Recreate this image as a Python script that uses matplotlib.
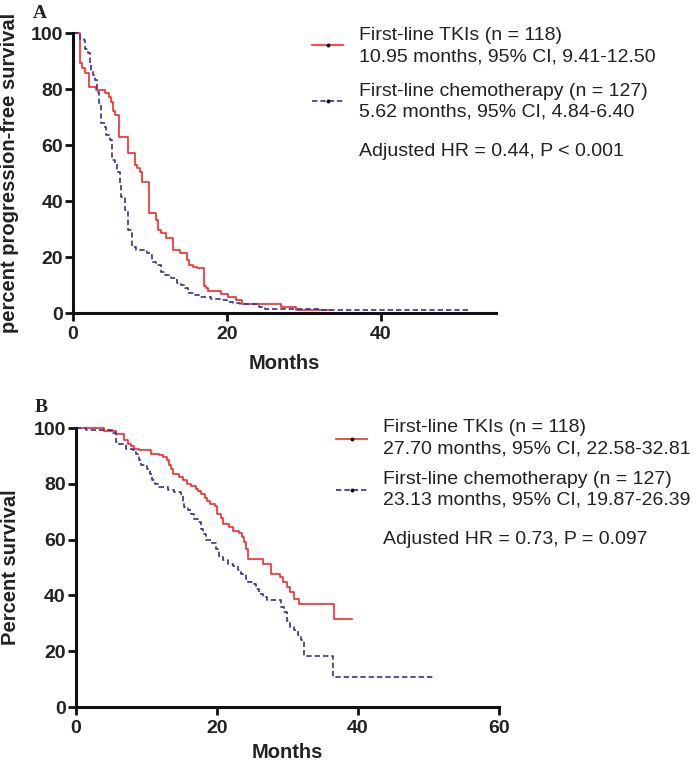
import matplotlib
matplotlib.use("Agg")
import matplotlib.pyplot as plt
from matplotlib.lines import Line2D

plt.rcParams['font.family'] = ['Liberation Sans', 'DejaVu Sans']

# ---------------- data ----------------
# Panel A: progression-free survival (step curves, value after each time)
pfs_tki_t = [0, 0.93, 1.15, 1.5, 2.07, 3.0, 4.1, 4.67, 5.0, 5.2, 5.4, 6.0, 7.1, 8.0, 8.3, 8.7,
             9.0, 9.9, 10.8, 11.1, 11.5, 12.1, 13.0, 13.9, 14.8, 15.1, 15.6, 16.1, 17.0, 17.3,
             17.6, 19.3, 20.1, 21.2, 22.0, 27.0, 29.0, 33.6]
pfs_tki_s = [100, 89.2, 87.4, 85.6, 80.8, 79.6, 78.5, 77.3, 75.5, 72.3, 70.7, 63.0, 57.0, 52.9, 51.7, 50.5,
             46.9, 35.6, 33.2, 29.6, 28.5, 26.7, 22.5, 21.3, 18.9, 17.1, 16.5, 16.0, 9.8, 8.8,
             8.0, 6.8, 5.6, 4.6, 3.2, 2.3, 0.9, 0.9]

pfs_chemo_t = [0, 0.93, 1.37, 1.6, 1.9, 2.15, 2.4, 2.6, 2.8, 3.1, 3.4, 3.7, 4.1, 4.3, 4.8, 5.1, 5.4,
               5.7, 6.1, 6.3, 6.7, 7.2, 7.5, 7.7, 8.2, 9.6, 10.0, 10.3, 10.8, 11.5, 11.9, 12.8,
               13.5, 14.1, 14.5, 15.0, 15.6, 16.5, 18.0, 19.1, 20.0, 20.8, 21.7, 24.2, 25.0, 32.0, 51.3]
pfs_chemo_s = [100, 98, 97.5, 94.2, 92.7, 89.2, 86.8, 85, 83.2, 79, 74.9, 67.7, 66.5, 63.6, 61.8, 54.6, 53.5,
               50.5, 46.3, 41.5, 36.8, 29.6, 28.5, 23.7, 22.5, 21.3, 20.7, 18.3, 17.1, 14.8, 13.6, 12.4,
               10.6, 10.0, 8.8, 7.0, 6.4, 5.8, 4.9, 4.6, 4.0, 3.5, 3.2, 2.0, 1.6, 0.9, 0.9]

# Panel B: overall survival
os_tki_t = [0, 4.1, 5.75, 6.9, 7.4, 7.9, 8.3, 9.05, 10.7, 11.9, 12.4, 12.9, 13.3, 13.5, 13.8, 14.7,
            15.2, 15.8, 16.4, 17.1, 17.3, 17.8, 18.3, 18.6, 19.0, 19.7, 20.1, 20.6, 20.9, 21.8, 22.3,
            23.2, 23.6, 23.9, 24.2, 24.5, 26.5, 27.7, 29.0, 29.4, 29.9, 30.4, 31.0, 31.7, 36.6, 39.2]
os_tki_s = [100, 99.0, 97.7, 95.6, 94.4, 93.4, 92.6, 92.0, 90.8, 90.2, 89.6, 88.4, 86.6, 85.4, 83.6, 82.4,
            81.5, 80.0, 79.1, 78.3, 77.4, 76.5, 75.0, 73.8, 72.9, 71.9, 69.3, 67.9, 65.7, 64.5, 63.1,
            62.4, 60.9, 59.1, 56.8, 53.2, 51.4, 47.8, 46.6, 44.8, 43.0, 41.2, 38.8, 37.0, 31.5, 31.5]

os_chemo_t = [0, 1.5, 5.3, 5.75, 6.2, 7.2, 8.1, 8.6, 9.0, 9.3, 10.2, 10.5, 10.8, 11.2, 11.9, 13.1, 14.0,
              15.0, 15.2, 15.4, 15.9, 16.4, 16.8, 17.3, 17.8, 18.0, 18.5, 19.4, 19.9, 20.4, 20.9, 21.6,
              22.3, 23.0, 23.4, 24.2, 24.4, 25.3, 25.6, 26.0, 26.5, 27.2, 29.1, 29.6, 30.0, 30.4, 31.0,
              31.5, 31.9, 32.4, 36.5, 50.9]
os_chemo_s = [100, 99.2, 98.2, 95.0, 94.4, 92.6, 92.0, 90.6, 88.4, 86.6, 85.4, 83.6, 81.5, 79.8, 78.9, 77.9, 77.1,
              76.2, 73.8, 71.7, 70.5, 69.3, 67.5, 66.3, 63.9, 62.1, 59.7, 58.8, 56.8, 53.8, 52.6, 51.4,
              50.4, 49.0, 47.8, 46.0, 44.8, 44.2, 42.4, 40.6, 39.4, 38.2, 35.8, 34.0, 31.0, 28.7, 27.5,
              25.7, 23.9, 18.2, 10.9, 10.9]

y_ticks = [0, 20, 40, 60, 80, 100]
xA_ticks = [0, 20, 40]
xB_ticks = [0, 20, 40, 60]

legendA = ["First-line TKIs (n = 118)", "10.95 months, 95% CI, 9.41-12.50",
           "First-line chemotherapy (n = 127)", "5.62 months, 95% CI, 4.84-6.40",
           "Adjusted HR = 0.44, P < 0.001"]
legendB = ["First-line TKIs (n = 118)", "27.70 months, 95% CI, 22.58-32.81",
           "First-line chemotherapy (n = 127)", "23.13 months, 95% CI, 19.87-26.39",
           "Adjusted HR = 0.73, P = 0.097"]

RED = '#f52a2a'
BLUE = '#3d2f8f'
TXT = '#222222'

W, H = 700, 765
fig = plt.figure(figsize=(W / 100, H / 100), dpi=100)


def fx(x):
    return x / W


def fy(y):
    return 1 - y / H


axA = fig.add_axes([fx(73), fy(313), (496 - 73) / W, (313 - 33) / H])
axB = fig.add_axes([fx(75.5), fy(707), (499 - 75.5) / W, (707 - 428) / H])


def style(ax, tki, chemo, xlim, xticks, ylabel, xlabelpad):
    ax.step(tki[0], tki[1], where='post', color=RED, lw=1.2, clip_on=False)
    ax.step(chemo[0], chemo[1], where='post', color=BLUE, lw=1.2, dashes=(3.2, 1.8), clip_on=False)
    ax.set_xlim(*xlim)
    ax.set_ylim(0, 100)
    for s in ['top', 'right']:
        ax.spines[s].set_visible(False)
    for s in ['left', 'bottom']:
        ax.spines[s].set_linewidth(2.2)
        ax.spines[s].set_color('#111111')
    ax.set_xticks(xticks)
    ax.set_xticklabels([str(t) for t in xticks], fontweight='bold', fontsize=14, color=TXT)
    ax.set_yticks(y_ticks)
    ax.set_yticklabels([str(t) for t in y_ticks], fontweight='bold', fontsize=14, color=TXT)
    ax.tick_params(axis='both', direction='out', length=5.5, width=2.0, color='#111111')
    ax.tick_params(axis='x', pad=4)
    ax.tick_params(axis='y', pad=1.5)
    ax.set_xlabel('Months', fontweight='bold', fontsize=14.5, color=TXT, labelpad=xlabelpad)
    ax.set_ylabel(ylabel, fontweight='bold', fontsize=14.5, color=TXT)


style(axA, (pfs_tki_t, pfs_tki_s), (pfs_chemo_t, pfs_chemo_s), (0, 55), xA_ticks,
      'percent progression-free survival', 8)
style(axB, (os_tki_t, os_tki_s), (os_chemo_t, os_chemo_s), (0, 60), xB_ticks,
      'Percent survival', 4)
axA.yaxis.set_label_coords((19 - 73) / 423, 0.5)
axB.yaxis.set_label_coords((20 - 75.5) / 423.5, 0.5)


def legend(x1, x2, ly1, ly2, tx, ty, labels):
    fig.add_artist(Line2D([fx(x1), fx(x2)], [fy(ly1), fy(ly1)], color=RED, lw=1.2,
                          transform=fig.transFigure))
    fig.add_artist(Line2D([fx(x1), fx(x2)], [fy(ly2), fy(ly2)], color=BLUE, lw=1.2,
                          dashes=(3.2, 1.8), transform=fig.transFigure))
    for ly in (ly1, ly2):
        fig.add_artist(Line2D([fx((x1 + x2) / 2)], [fy(ly)], marker='o', ms=1.8, color='black',
                              transform=fig.transFigure))
    for lab, y in zip(labels, ty):
        fig.text(fx(tx), fy(y), lab, fontsize=14, color=TXT, va='center', ha='left')


legend(312, 343, 45, 101, 359, [35, 57, 91, 112, 152], legendA)
legend(336, 367, 439, 490, 383, [428, 449, 479, 500, 540], legendB)

fig.text(fx(33), fy(13), 'A', family='Liberation Serif', fontweight='bold', fontsize=14,
         va='center', ha='left', color=TXT)
fig.text(fx(35), fy(408), 'B', family='Liberation Serif', fontweight='bold', fontsize=14,
         va='center', ha='left', color=TXT)

fig.savefig('out.png', dpi=100)
